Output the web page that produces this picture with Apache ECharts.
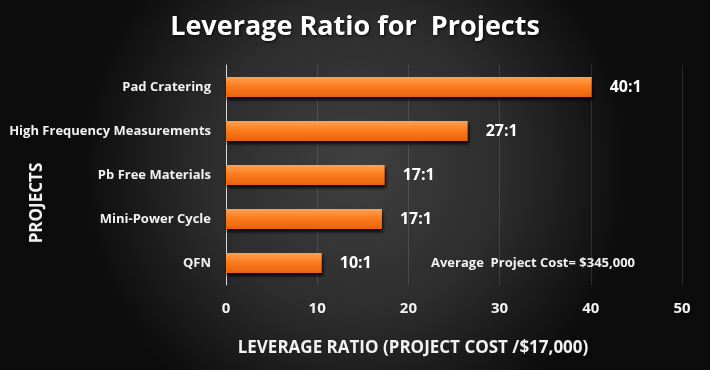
<!DOCTYPE html>
<html>
<head>
<meta charset="utf-8">
<script src="https://cdn.jsdelivr.net/npm/echarts@6/dist/echarts.min.js"></script>
<style>
html,body{margin:0;padding:0;background:#000;}
#c{width:710px;height:370px;}
</style>
</head>
<body>
<div id="c"></div>
<script>
var categories = ['QFN', 'Mini-Power Cycle', 'Pb Free Materials', 'High Frequency Measurements', 'Pad Cratering'];
var values = [10.5, 17.1, 17.4, 26.5, 40.1];
var ratioLabels = ['10:1', '17:1', '17:1', '27:1', '40:1'];
var xTicks = [0, 10, 20, 30, 40, 50];
var titleText = 'Leverage Ratio for  Projects';
var xAxisTitle = 'LEVERAGE RATIO (PROJECT COST /$17,000)';
var yAxisTitle = 'PROJECTS';
var noteText = 'Average  Project Cost= $345,000';

var font = '"Open Sans", sans-serif';
var chart = echarts.init(document.getElementById('c'));
chart.setOption({
  backgroundColor: {
    type: 'radial', x: 0.5, y: 0.45, r: 0.75,
    colorStops: [
      {offset: 0, color: '#404040'},
      {offset: 0.55, color: '#2c2c2c'},
      {offset: 1, color: '#0c0c0c'}
    ]
  },
  animation: false,
  title: {
    text: titleText,
    left: 'center',
    top: 9,
    textStyle: {
      color: '#ffffff', fontSize: 27, fontWeight: 'bold', fontFamily: font,
      textShadowColor: 'rgba(0,0,0,0.8)', textShadowBlur: 3, textShadowOffsetX: 1, textShadowOffsetY: 1
    }
  },
  grid: {left: 226, right: 28, top: 65, bottom: 85, containLabel: false, outerBoundsMode: 'none'},
  xAxis: {
    type: 'value',
    min: xTicks[0], max: xTicks[xTicks.length - 1], interval: 10,
    name: xAxisTitle,
    nameLocation: 'middle',
    nameGap: 55,
    nameMoveOverlap: false,
    nameTextStyle: {color: '#f2f2f2', fontSize: 17, fontWeight: 'bold', fontFamily: font, padding: [0, 82, 0, 0]},
    axisLine: {show: false},
    axisTick: {show: false},
    axisLabel: {color: '#f2f2f2', fontSize: 15, fontWeight: 'bold', fontFamily: font, margin: 16},
    splitLine: {show: true, lineStyle: {color: 'rgba(255,255,255,0.12)', width: 1}}
  },
  yAxis: {
    type: 'category',
    data: categories,
    name: yAxisTitle,
    nameLocation: 'middle',
    nameGap: 180,
    nameMoveOverlap: false,
    nameRotate: 90,
    nameTextStyle: {color: '#f2f2f2', fontSize: 17, fontWeight: 'bold', fontFamily: font, padding: [0, 56, 0, 0]},
    axisLine: {show: true, lineStyle: {color: '#d9d9d9', width: 1}},
    axisTick: {show: false},
    axisLabel: {color: '#f2f2f2', fontSize: 13, fontWeight: 'bold', fontFamily: font, margin: 15}
  },
  graphic: [{
    type: 'text',
    left: 431, top: 257,
    style: {text: noteText, fill: '#f2f2f2', font: 'bold 13px ' + font}
  }],
  series: [{
    type: 'bar',
    data: values,
    barWidth: 20,
    itemStyle: {
      color: {
        type: 'linear', x: 0, y: 0, x2: 0, y2: 1,
        colorStops: [
          {offset: 0, color: '#ffa14e'},
          {offset: 0.45, color: '#fb7d1f'},
          {offset: 1, color: '#e8620c'}
        ]
      },
      shadowColor: 'rgba(0,0,0,0.85)', shadowBlur: 3, shadowOffsetX: 1, shadowOffsetY: 3
    },
    label: {
      show: true, position: 'right', distance: 18,
      color: '#ffffff', fontSize: 16, fontWeight: 'bold', fontFamily: font,
      formatter: function (p) { return ratioLabels[p.dataIndex]; }
    }
  }]
});
</script>
</body>
</html>
